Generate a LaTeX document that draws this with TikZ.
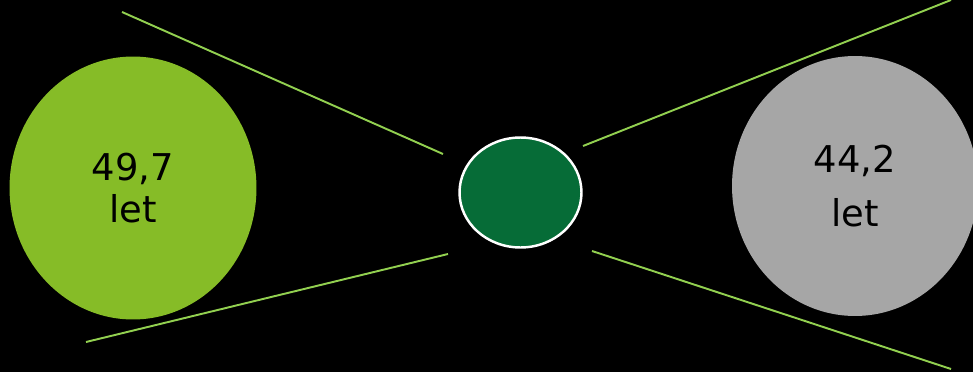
\documentclass[tikz,border=0pt]{standalone}
\usepackage{fontspec}
\setmainfont{DejaVu Sans}
\usetikzlibrary{shapes.geometric}
\definecolor{leafgreen}{RGB}{134,188,39}
\definecolor{darkgreen}{RGB}{6,108,55}
\definecolor{midgray}{RGB}{166,166,166}
\definecolor{linegreen}{RGB}{146,208,80}

\begin{document}
\begin{tikzpicture}[
  x=0.02cm, y=-0.02cm,
  blob/.style={ellipse, inner sep=0pt, font=\fontsize{21}{24}\selectfont,
    align=center, text=black},
  ray/.style={draw=linegreen, line width=1.1pt}
]
\useasboundingbox (0,0) rectangle (973,372);
\fill[black] (0,0) rectangle (973,372);
\clip (0,0) rectangle (973,372);

\node[blob, fill=leafgreen, minimum width=4.94cm, minimum height=5.26cm] (left) at (133,188)
  {49,7\\let};
\node[blob, fill=midgray, minimum width=4.92cm, minimum height=5.2cm] (right) at (855,186)
  {44,2\\[6.8pt]let};
\node[blob, fill=darkgreen, draw=white, line width=1.4pt,
  minimum width=2.44cm, minimum height=2.2cm] (mid) at (520.5,192.5) {};

% rays
\coordinate (ulA) at (122,12);  \coordinate (ulB) at (443,154);
\coordinate (llA) at (86,342);  \coordinate (llB) at (448,254);
\coordinate (urA) at (583,146); \coordinate (urB) at (951,0);
\coordinate (lrA) at (592,251); \coordinate (lrB) at (951,369);
\draw[ray] (ulA) -- (ulB);
\draw[ray] (llA) -- (llB);
\draw[ray] (urA) -- (urB);
\draw[ray] (lrA) -- (lrB);
\end{tikzpicture}
\end{document}
